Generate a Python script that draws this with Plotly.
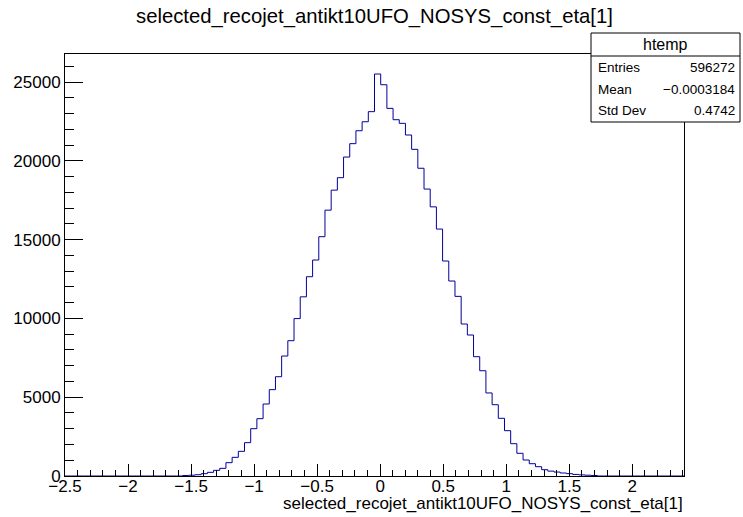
import numpy as np
import plotly.graph_objects as go

# ---- data ----
x_min = -2.5
x_max = 2.41
n_bins = 100
counts = [0] * 19 + [
    30, 50, 80, 148, 233, 360, 486, 846, 1184, 1565,
    2115, 3003, 3637, 4569, 5480, 6300, 7614, 8587, 9990, 11370,
    12646, 13706, 15185, 16870, 18140, 18930, 20240, 21090, 21910, 22480,
    23120, 25510, 24830, 23330, 22610, 22380, 21640, 20730, 19530, 18210,
    17080, 15670, 13642, 12373, 11400, 9645, 8947, 7570, 6680, 5270,
    4524, 3661, 2876, 2050, 1440, 1015, 780, 590, 400, 310,
    250, 190, 150, 100, 70, 50, 30,
] + [0] * 14
y_max = 26780

hist_name = "htemp"
title_text = "selected_recojet_antikt10UFO_NOSYS_const_eta[1]"
stat_labels = ["Entries", "Mean", "Std Dev"]
stat_values = ["596272", "\u22120.0003184", "0.4742"]

# ---- geometry ----
W, H = 743, 517
L, R, T, B = 65, 59, 54, 41
PW, PH = W - L - R, H - T - B

def px(x):
    return (x - L) / PW

def py(y):
    return (H - B - y) / PH

edges = np.linspace(x_min, x_max, n_bins + 1)
xs = list(edges[:-1]) + [edges[-1]]
ys = list(counts) + [counts[-1]]

FONT = "Liberation Sans, Arial, Helvetica, sans-serif"

fig = go.Figure()
fig.add_trace(go.Scatter(
    x=xs, y=ys, mode="lines",
    line=dict(shape="hv", color="#000099", width=1),
    hoverinfo="skip", showlegend=False,
))

fig.update_layout(
    width=W, height=H,
    margin=dict(l=L, r=R, t=T, b=B, pad=0),
    paper_bgcolor="white", plot_bgcolor="white",
    font=dict(family=FONT, color="black"),
    showlegend=False,
)

fig.update_xaxes(
    range=[x_min, x_max], showgrid=False, zeroline=False,
    showline=True, linecolor="black", linewidth=1, mirror=True,
    ticks="inside", ticklen=12, tickcolor="black", tickwidth=1,
    tick0=-2.5, dtick=0.5, ticklabelstandoff=-5,
    minor=dict(ticks="inside", ticklen=6, dtick=0.1, tick0=-2.5, tickcolor="black", showgrid=False),
    tickfont=dict(size=17, family=FONT, color="black"),
)
fig.update_yaxes(
    range=[0, y_max], showgrid=False, zeroline=False,
    showline=True, linecolor="black", linewidth=1, mirror=True,
    ticks="inside", ticklen=18, tickcolor="black", tickwidth=1,
    tick0=0, dtick=5000, tickformat="d",
    minor=dict(ticks="inside", ticklen=9, dtick=1000, tickcolor="black", showgrid=False),
    tickfont=dict(size=17, family=FONT, color="black"),
)

annotations = []
# title
annotations.append(dict(
    text=title_text, xref="paper", yref="paper",
    x=px(374), y=py(17), xanchor="center", yanchor="middle",
    showarrow=False, font=dict(size=20.3, family=FONT, color="black"),
))
# x axis title (right aligned)
annotations.append(dict(
    text=title_text, xref="paper", yref="paper",
    x=px(685), y=py(503.5), xanchor="right", yanchor="middle",
    showarrow=False, font=dict(size=17, family=FONT, color="black"),
))

# stats box
bx0, bx1, by0, by1, bsep = 591, 740, 33, 122, 56
shapes = [
    dict(type="rect", xref="paper", yref="paper",
         x0=px(bx0), x1=px(bx1), y0=py(by1), y1=py(by0),
         line=dict(color="black", width=1), fillcolor="white", layer="above"),
    dict(type="line", xref="paper", yref="paper",
         x0=px(bx0), x1=px(bx1), y0=py(bsep), y1=py(bsep),
         line=dict(color="black", width=1), layer="above"),
]
annotations.append(dict(
    text=hist_name, xref="paper", yref="paper",
    x=px((bx0 + bx1) / 2), y=py(45), xanchor="center", yanchor="middle",
    showarrow=False, font=dict(size=16, family=FONT, color="black"),
))
row_y = [67.5, 89, 110]
for lab, val, yy in zip(stat_labels, stat_values, row_y):
    annotations.append(dict(
        text=lab, xref="paper", yref="paper",
        x=px(596), y=py(yy), xanchor="left", yanchor="middle",
        showarrow=False, font=dict(size=13.5, family=FONT, color="black"),
    ))
    annotations.append(dict(
        text=val, xref="paper", yref="paper",
        x=px(737), y=py(yy), xanchor="right", yanchor="middle",
        showarrow=False, font=dict(size=13.5, family=FONT, color="black"),
    ))

fig.update_layout(shapes=shapes, annotations=annotations)
fig.write_html("out.html")
